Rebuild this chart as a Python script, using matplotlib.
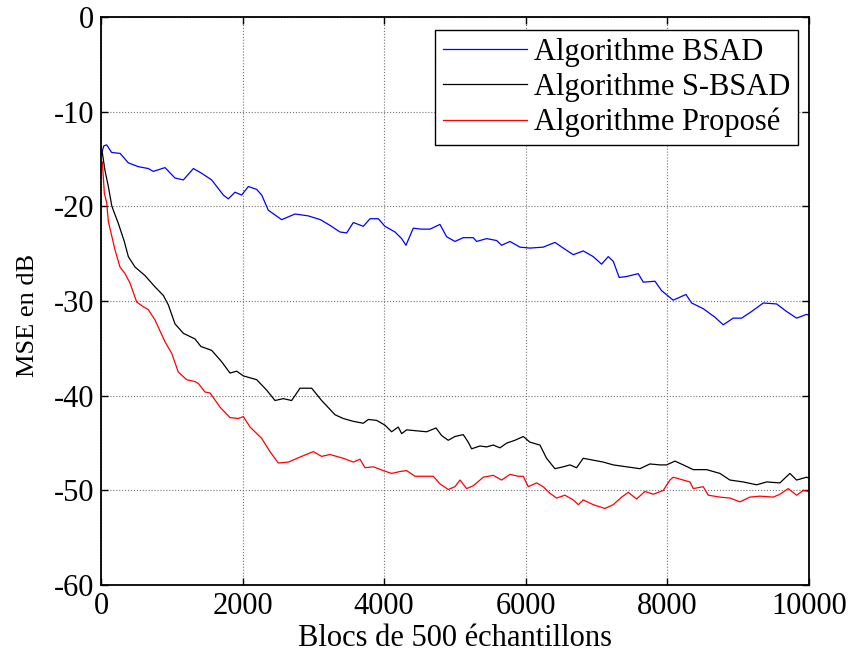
# ==========================================
# Courbes MSE : BSAD / S-BSAD / proposé
# ==========================================
import matplotlib
matplotlib.use("Agg")
import matplotlib.pyplot as plt

plt.rcParams['font.family'] = ['Liberation Serif', 'DejaVu Serif']
plt.rcParams['axes.unicode_minus'] = False

# --- données (MSE en dB) ---
x_bsad = [0, 40, 80, 150, 270, 386, 527, 668, 739, 904, 1045, 1163, 1305, 1422,
          1563, 1728, 1798, 1893, 1987, 2081, 2199, 2270, 2363, 2552, 2740, 2928,
          3100, 3234, 3376, 3470, 3564, 3705, 3800, 3917, 4011, 4153, 4247, 4308,
          4411, 4529, 4647, 4788, 4882, 5000, 5117, 5259, 5306, 5447, 5588, 5659,
          5777, 5918, 6059, 6247, 6412, 6530, 6671, 6812, 6953, 7071, 7165, 7236,
          7320, 7425, 7589, 7660, 7825, 7919, 8083, 8263, 8343, 8507, 8672, 8790,
          8931, 9049, 9190, 9355, 9544, 9685, 9826, 9967, 10000]
y_bsad = [-14.6, -13.6, -13.5, -14.3, -14.4, -15.4, -15.8, -16.0, -16.3, -15.9,
          -17.0, -17.2, -16.0, -16.5, -17.2, -18.8, -19.2, -18.5, -18.8, -17.9,
          -18.2, -18.8, -20.4, -21.4, -20.8, -21.0, -21.4, -22.0, -22.7, -22.8,
          -21.7, -22.1, -21.3, -21.3, -22.1, -22.7, -23.4, -24.1, -22.3, -22.4,
          -22.4, -21.9, -23.2, -23.7, -23.3, -23.3, -23.7, -23.4, -23.6, -24.1,
          -23.7, -24.3, -24.4, -24.3, -23.8, -24.4, -25.1, -24.7, -25.3, -26.1,
          -25.3, -25.8, -27.5, -27.4, -27.1, -28.0, -27.9, -28.9, -29.9, -29.3,
          -30.2, -30.8, -31.7, -32.5, -31.8, -31.8, -31.1, -30.2, -30.3, -31.1,
          -31.8, -31.4, -31.5]

x_sbsad = [0, 20, 56, 104, 151, 174, 245, 329, 386, 480, 621, 763, 880, 951, 1045,
           1163, 1328, 1412, 1563, 1704, 1822, 1916, 2011, 2199, 2340, 2458, 2575,
           2693, 2811, 2976, 3117, 3305, 3422, 3564, 3705, 3776, 3894, 4011, 4105,
           4199, 4247, 4317, 4458, 4600, 4732, 4812, 4905, 5000, 5117, 5188, 5235,
           5353, 5447, 5541, 5636, 5730, 5847, 5965, 6059, 6200, 6294, 6412, 6530,
           6624, 6718, 6812, 6953, 7094, 7236, 7425, 7613, 7754, 7895, 7990, 8107,
           8225, 8366, 8555, 8743, 8884, 9072, 9261, 9402, 9590, 9731, 9826, 9967,
           10000]
y_sbsad = [-13.8, -14.4, -16.2, -17.9, -19.9, -20.4, -21.8, -23.7, -25.3, -26.4,
           -27.3, -28.5, -29.4, -30.4, -32.4, -33.4, -34.0, -34.8, -35.2, -36.4,
           -37.6, -37.4, -37.9, -38.3, -39.4, -40.5, -40.3, -40.5, -39.2, -39.2,
           -40.5, -42.0, -42.4, -42.7, -42.9, -42.5, -42.6, -43.1, -43.8, -43.3,
           -44.0, -43.6, -43.7, -43.8, -43.4, -44.2, -44.7, -44.3, -44.1, -44.9,
           -45.6, -45.3, -45.4, -45.2, -45.5, -45.0, -44.7, -44.3, -44.9, -45.2,
           -46.6, -47.7, -47.5, -47.3, -47.6, -46.6, -46.8, -47.0, -47.3, -47.5,
           -47.7, -47.2, -47.3, -47.3, -46.9, -47.3, -47.8, -47.8, -48.2, -48.9,
           -49.1, -49.4, -49.1, -49.2, -48.2, -48.9, -48.6, -48.7]

x_prop = [0, 19, 47, 80, 104, 198, 268, 339, 410, 504, 598, 668, 763, 904, 998,
          1092, 1210, 1328, 1375, 1469, 1540, 1681, 1822, 1939, 2011, 2105, 2270,
          2387, 2505, 2646, 2834, 2999, 3117, 3234, 3422, 3564, 3658, 3729, 3847,
          3988, 4105, 4223, 4317, 4435, 4576, 4694, 4788, 4905, 5000, 5071, 5165,
          5259, 5400, 5541, 5659, 5777, 5894, 5965, 6035, 6153, 6247, 6342, 6436,
          6553, 6671, 6742, 6812, 6953, 7119, 7236, 7354, 7448, 7566, 7683, 7801,
          7942, 8036, 8083, 8225, 8319, 8366, 8507, 8578, 8743, 8884, 9025, 9166,
          9308, 9496, 9590, 9708, 9826, 9920, 10000]
y_prop = [-15.5, -15.3, -18.6, -19.6, -21.6, -24.6, -26.4, -27.1, -28.1, -30.1,
          -30.6, -30.9, -32.0, -34.3, -35.5, -37.5, -38.3, -38.5, -38.7, -39.6,
          -39.7, -41.2, -42.3, -42.4, -42.2, -43.3, -44.5, -45.9, -47.1, -47.0,
          -46.4, -45.9, -46.4, -46.2, -46.6, -47.0, -46.7, -47.6, -47.5, -47.9,
          -48.2, -48.0, -47.9, -48.5, -48.5, -48.5, -49.3, -49.9, -49.6, -48.9,
          -49.8, -49.5, -48.6, -48.4, -48.9, -48.3, -48.5, -48.5, -49.6, -49.2,
          -49.6, -50.3, -50.8, -50.5, -51.0, -51.5, -51.0, -51.5, -51.9, -51.5,
          -50.7, -50.2, -50.9, -50.1, -50.4, -50.0, -48.9, -48.6, -48.9, -49.1,
          -49.8, -49.6, -50.5, -50.7, -50.8, -51.2, -50.7, -50.6, -50.7, -50.4,
          -49.8, -50.5, -50.0, -50.1]

labels = ['Algorithme BSAD', 'Algorithme S-BSAD', 'Algorithme Proposé']
xticks = [0, 2000, 4000, 6000, 8000, 10000]
yticks = [-60, -50, -40, -30, -20, -10, 0]

# --- figure ---
fig = plt.figure(figsize=(8.56, 6.56), dpi=100)
ax = fig.add_axes([0.118, 0.108, 0.827, 0.866])

ax.plot(x_bsad, y_bsad, color='b', lw=0.9, label=labels[0])
ax.plot(x_sbsad, y_sbsad, color='k', lw=0.9, label=labels[1])
ax.plot(x_prop, y_prop, color='r', lw=0.9, label=labels[2])

ax.set_xlim(0, 10000)
ax.set_ylim(-60, 0)
ax.set_xticks(xticks)
ax.set_yticks(yticks)
ax.grid(True, color='0.45', linestyle=':', linewidth=0.8)

for s in ax.spines.values():
    s.set_linewidth(1.3)
ax.tick_params(direction='in', top=True, right=True, length=5, width=1,
               labelsize=22, pad=5)

ax.set_xlabel('Blocs de 500 échantillons', fontsize=22, labelpad=2)
ax.set_ylabel('MSE en dB', fontsize=19)
ax.yaxis.set_label_coords(-0.088, 0.475)

leg = ax.legend(loc='upper right', bbox_to_anchor=(0.985, 0.977), fontsize=22,
                fancybox=False, framealpha=1, edgecolor='k',
                handlelength=2.75, handletextpad=0.25, labelspacing=0.2,
                borderpad=0.25, borderaxespad=0)
leg.get_frame().set_linewidth(1.0)

plt.savefig('out.png', dpi=100)
